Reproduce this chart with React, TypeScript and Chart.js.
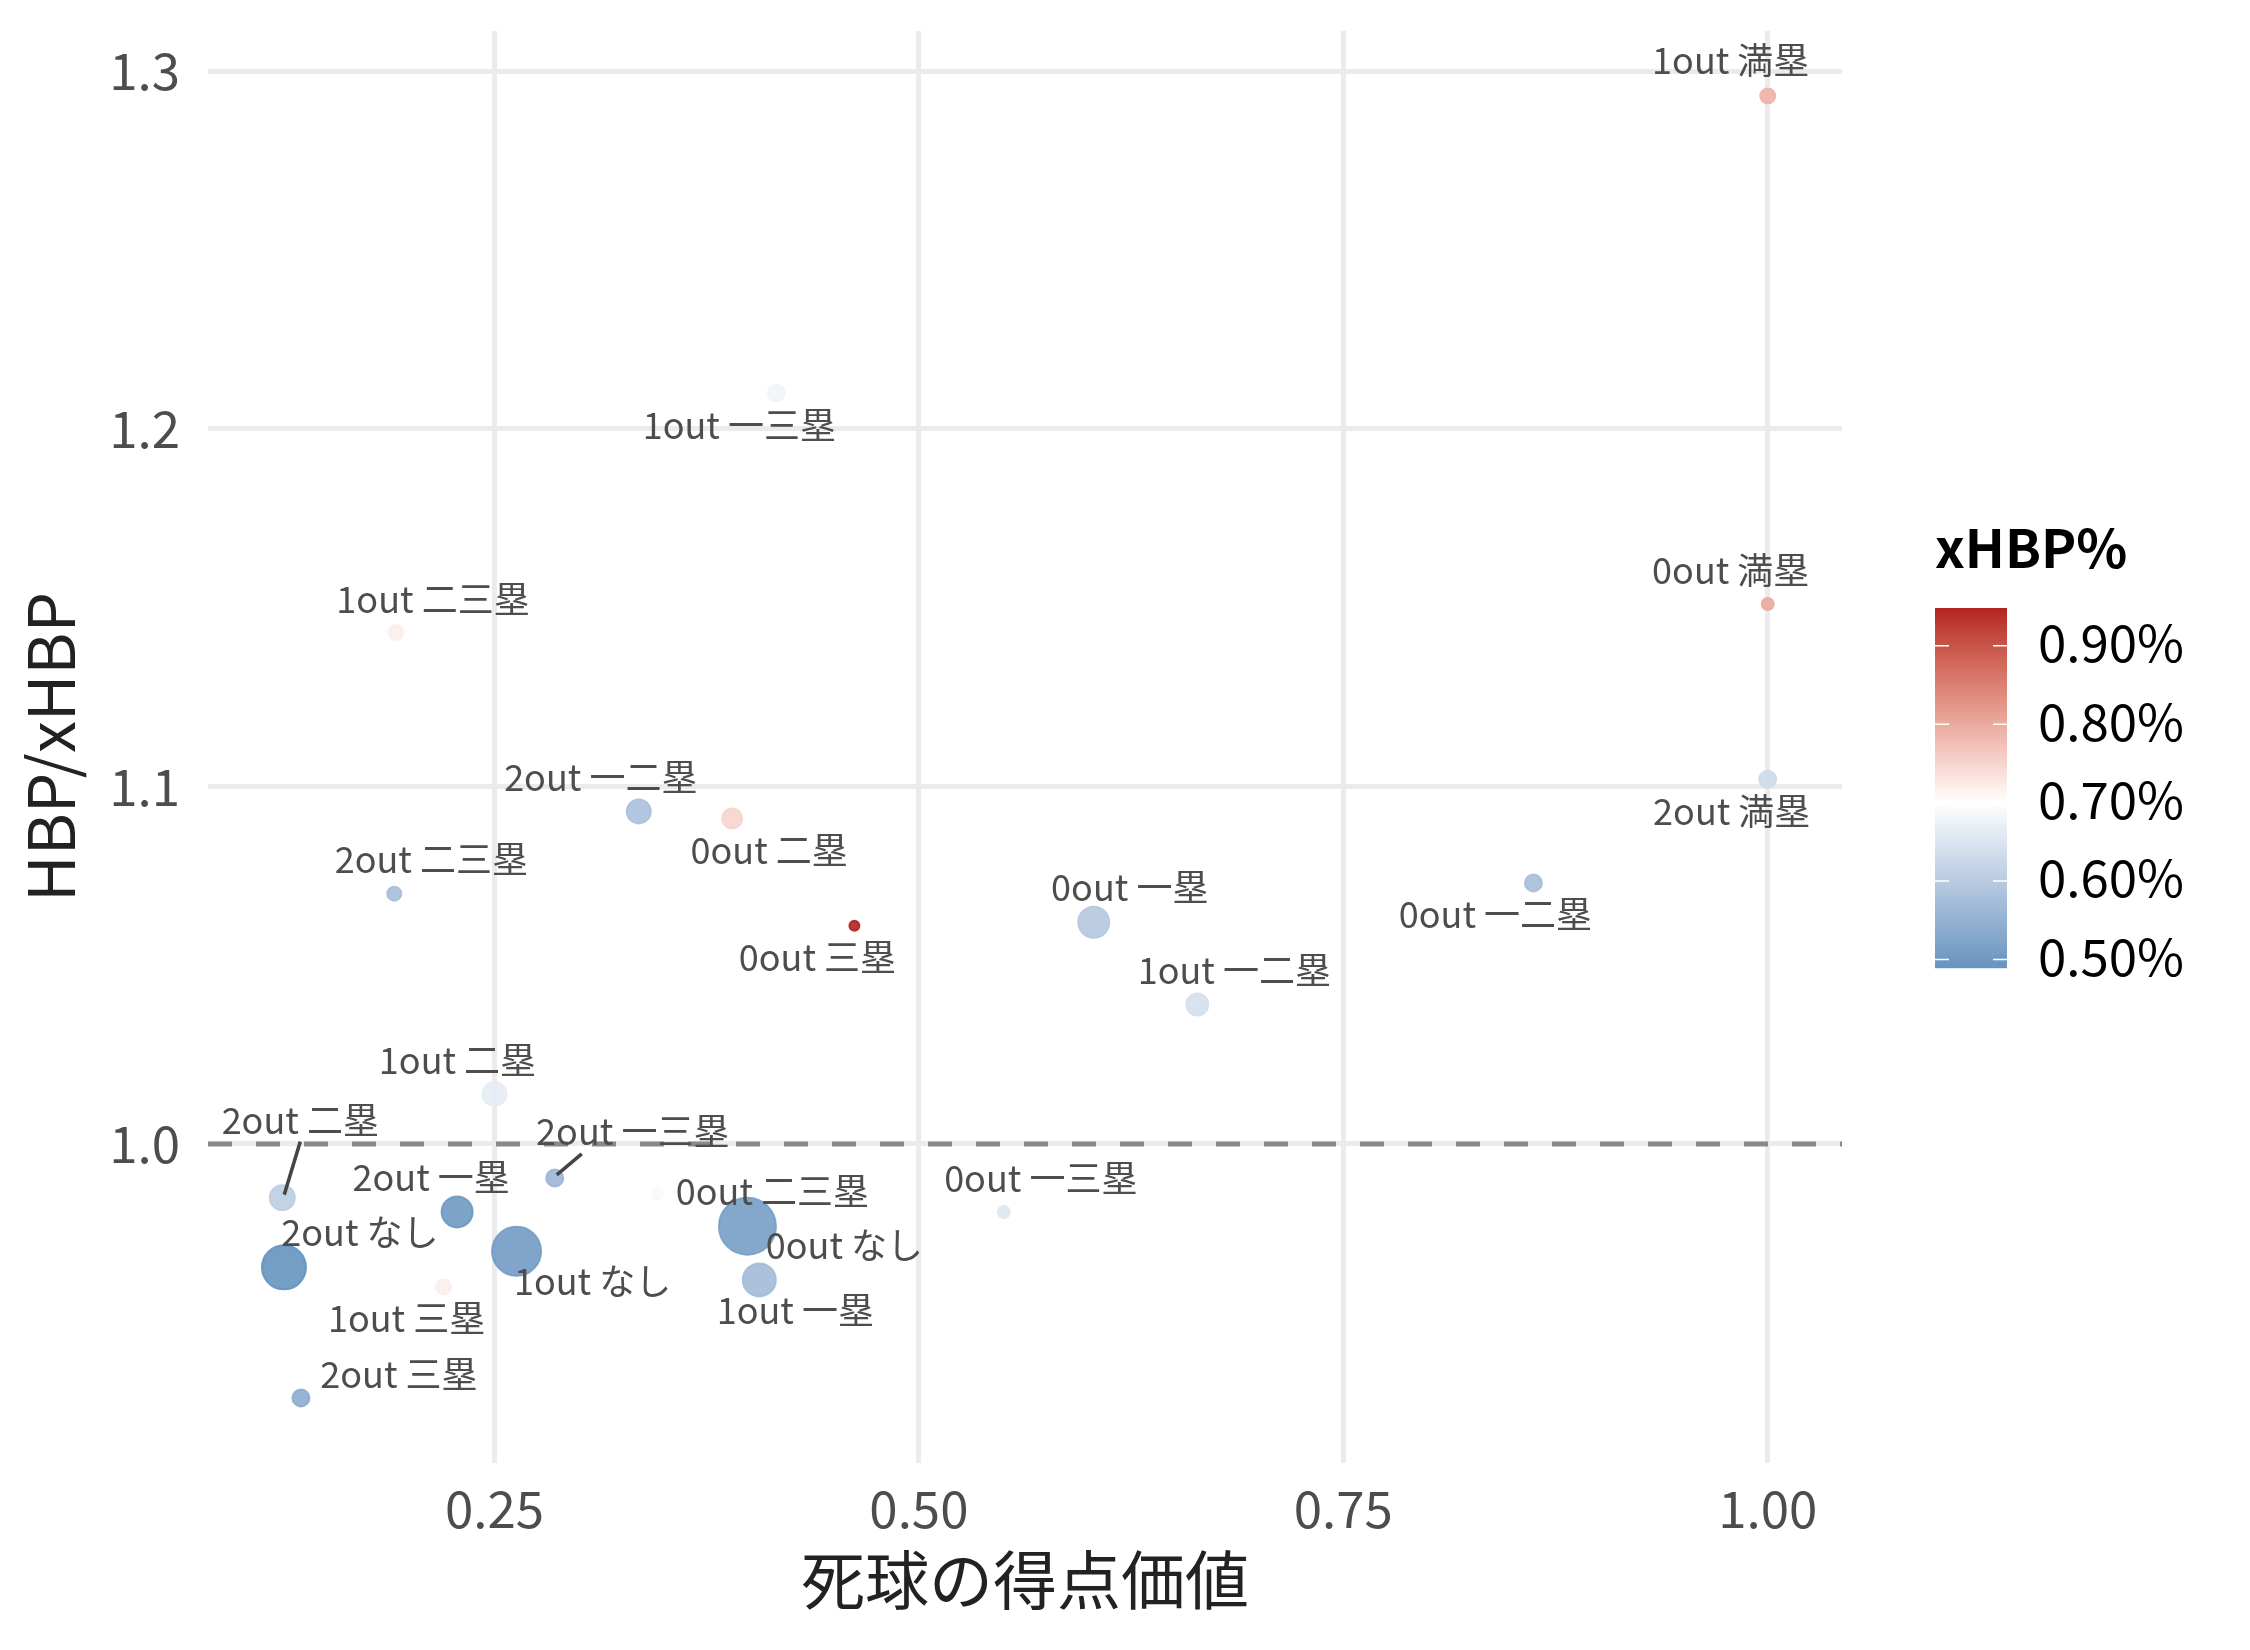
import React, { useEffect, useRef } from 'react';
import { Chart, registerables, ChartConfiguration, Plugin } from 'chart.js';

Chart.register(...registerables);

// 走者・アウト状況ごとの死球データ
const situations = [
  '0out なし', '0out 一塁', '0out 二塁', '0out 三塁', '0out 一二塁', '0out 一三塁', '0out 二三塁', '0out 満塁',
  '1out なし', '1out 一塁', '1out 二塁', '1out 三塁', '1out 一二塁', '1out 一三塁', '1out 二三塁', '1out 満塁',
  '2out なし', '2out 一塁', '2out 二塁', '2out 三塁', '2out 一二塁', '2out 一三塁', '2out 二三塁', '2out 満塁',
];
// 死球の得点価値
const hbpValue = [
  0.399, 0.603, 0.390, 0.462, 0.862, 0.550, 0.346, 1.000,
  0.263, 0.406, 0.250, 0.220, 0.664, 0.416, 0.192, 1.000,
  0.126, 0.228, 0.125, 0.136, 0.335, 0.2855, 0.191, 1.000,
];
// HBP/xHBP
const hbpRatio = [
  0.977, 1.062, 1.091, 1.061, 1.073, 0.981, 0.986, 1.151,
  0.970, 0.962, 1.014, 0.960, 1.039, 1.210, 1.143, 1.293,
  0.9655, 0.981, 0.985, 0.929, 1.093, 0.9905, 1.070, 1.102,
];
// xHBP% (colour)
const xhbpPct = [
  0.510, 0.595, 0.750, 0.948, 0.575, 0.655, 0.690, 0.800,
  0.505, 0.570, 0.665, 0.720, 0.640, 0.680, 0.720, 0.790,
  0.4893, 0.500, 0.605, 0.540, 0.580, 0.560, 0.575, 0.630,
];
// 件数 (size)
const hbpCount = [
  870, 272, 121, 36, 90, 49, 42, 49,
  650, 306, 169, 72, 144, 90, 72, 72,
  529, 272, 182, 90, 169, 90, 64, 90,
];

const xTicks = [0.25, 0.5, 0.75, 1.0];
const yTicks = [1.0, 1.1, 1.2, 1.3];
const legendBreaks = [0.5, 0.6, 0.7, 0.8, 0.9];

// where the repelled labels ended up, relative to their point (px)
const labelNudge: [number, number][] = [
  [97, 21], [36, -33], [37, 34], [-37, 33], [-38, 33], [37, -32], [115, -1], [-37, -32],
  [76, 32], [36, 32], [-37, -32], [-37, 33], [37, -32], [-37, 34], [37, -31], [-37, -34],
  [76, -33], [-26, -33], [18, -75], [98, -22], [-38, -32], [78, -45], [37, -32], [-36, 34],
];
const segmentNudge: ([number, number] | null)[] = situations.map(() => null);
segmentNudge[18] = [18, -56];
segmentNudge[21] = [27, -24];

const FONT = '"Noto Sans CJK JP", "Noto Sans", sans-serif';
const W = 2250;
const H = 1650;

// ---- scale_colour_gradient2(low = steelblue, mid = white, high = firebrick, midpoint = 0.7), Lab space
const LOW = [70, 130, 180];
const MID = [255, 255, 255];
const HIGH = [178, 34, 34];
const MIDPOINT = 0.7;

const toLin = (c: number) => {
  const v = c / 255;
  return v <= 0.04045 ? v / 12.92 : Math.pow((v + 0.055) / 1.055, 2.4);
};
const fromLin = (c: number) => {
  const v = c <= 0.0031308 ? 12.92 * c : 1.055 * Math.pow(c, 1 / 2.4) - 0.055;
  return Math.round(Math.min(1, Math.max(0, v)) * 255);
};
const WX = 0.95047, WY = 1, WZ = 1.08883;
const fLab = (t: number) => (t > 216 / 24389 ? Math.cbrt(t) : (24389 / 27 * t + 16) / 116);
const fLabInv = (t: number) => (t * t * t > 216 / 24389 ? t * t * t : (116 * t - 16) / (24389 / 27));

function rgbToLab(rgb: number[]) {
  const [r, g, b] = rgb.map(toLin);
  const x = (0.4124564 * r + 0.3575761 * g + 0.1804375 * b) / WX;
  const y = (0.2126729 * r + 0.7151522 * g + 0.072175 * b) / WY;
  const z = (0.0193339 * r + 0.119192 * g + 0.9503041 * b) / WZ;
  const fx = fLab(x), fy = fLab(y), fz = fLab(z);
  return [116 * fy - 16, 500 * (fx - fy), 200 * (fy - fz)];
}

function labToRgb(lab: number[]) {
  const fy = (lab[0] + 16) / 116;
  const fx = fy + lab[1] / 500;
  const fz = fy - lab[2] / 200;
  const x = fLabInv(fx) * WX, y = fLabInv(fy) * WY, z = fLabInv(fz) * WZ;
  const r = 3.2404542 * x - 1.5371385 * y - 0.4985314 * z;
  const g = -0.969266 * x + 1.8760108 * y + 0.041556 * z;
  const b = 0.0556434 * x - 0.2040259 * y + 1.0572252 * z;
  return [fromLin(r), fromLin(g), fromLin(b)];
}

const labLow = rgbToLab(LOW), labMid = rgbToLab(MID), labHigh = rgbToLab(HIGH);
const colMin = Math.min(...xhbpPct);
const colMax = Math.max(...xhbpPct);
const maxDev = Math.max(MIDPOINT - colMin, colMax - MIDPOINT);

function colourFor(v: number) {
  const t = Math.min(1, Math.max(0, (v - MIDPOINT) / maxDev / 2 + 0.5));
  const mix = (a: number[], b: number[], k: number) => a.map((c, i) => c + (b[i] - c) * k);
  const lab = t < 0.5 ? mix(labLow, labMid, t / 0.5) : mix(labMid, labHigh, (t - 0.5) / 0.5);
  return labToRgb(lab);
}
const rgba = (c: number[], a: number) => `rgba(${c[0]}, ${c[1]}, ${c[2]}, ${a})`;

// axis limits with ggplot's 5% expansion
const xr = [Math.min(...hbpValue), Math.max(...hbpValue)];
const yr = [Math.min(...hbpRatio), Math.max(...hbpRatio)];
const xPad = (xr[1] - xr[0]) * 0.05;
const yPad = (yr[1] - yr[0]) * 0.05;

const refLinePlugin: Plugin<'scatter'> = {
  id: 'refLine',
  beforeDatasetsDraw(chart) {
    const { ctx, chartArea, scales } = chart;
    const y = scales.y.getPixelForValue(1);
    ctx.save();
    ctx.strokeStyle = '#898989';
    ctx.lineWidth = 5;
    ctx.setLineDash([24, 24]);
    ctx.beginPath();
    ctx.moveTo(chartArea.left, y);
    ctx.lineTo(chartArea.right, y);
    ctx.stroke();
    ctx.restore();
  },
};

const labelPlugin: Plugin<'scatter'> = {
  id: 'pointLabels',
  afterDatasetsDraw(chart) {
    const { ctx, scales } = chart;
    ctx.save();
    situations.forEach((name, i) => {
      const px = scales.x.getPixelForValue(hbpValue[i]);
      const py = scales.y.getPixelForValue(hbpRatio[i]);
      const seg = segmentNudge[i];
      if (seg) {
        ctx.strokeStyle = '#444444';
        ctx.lineWidth = 3.5;
        ctx.beginPath();
        ctx.moveTo(px + 2, py - 3);
        ctx.lineTo(px + seg[0], py + seg[1]);
        ctx.stroke();
      }
      ctx.font = `36px ${FONT}`;
      ctx.fillStyle = '#4D4D4D';
      ctx.textAlign = 'center';
      ctx.textBaseline = 'middle';
      ctx.fillText(name, px + labelNudge[i][0], py + labelNudge[i][1] - 2);
    });
    ctx.restore();
  },
};

const colourbarPlugin: Plugin<'scatter'> = {
  id: 'colourbar',
  afterDraw(chart) {
    const { ctx } = chart;
    const left = 1935, top = 608, width = 72, height = 360;
    ctx.save();
    for (let r = 0; r < height; r++) {
      const v = colMax - ((r + 0.5) / height) * (colMax - colMin);
      ctx.fillStyle = rgba(colourFor(v), 1);
      ctx.fillRect(left, top + r, width, 1.2);
    }
    ctx.strokeStyle = '#FFFFFF';
    ctx.lineWidth = 1.5;
    ctx.font = `51px ${FONT}`;
    ctx.fillStyle = '#000000';
    ctx.textAlign = 'left';
    ctx.textBaseline = 'middle';
    legendBreaks.forEach((b) => {
      const y = top + height - ((b - colMin) / (colMax - colMin)) * height;
      ctx.beginPath();
      ctx.moveTo(left, y);
      ctx.lineTo(left + 14, y);
      ctx.moveTo(left + width - 14, y);
      ctx.lineTo(left + width, y);
      ctx.stroke();
      ctx.fillText(`${b.toFixed(2)}%`, 2038, y - 3);
    });
    ctx.font = `bold 53px ${FONT}`;
    ctx.fillText('xHBP%', 1935, 548);
    ctx.restore();
  },
};

const App: React.FC = () => {
  const canvasRef = useRef<HTMLCanvasElement>(null);
  const chartRef = useRef<Chart<'scatter'> | null>(null);

  useEffect(() => {
    document.body.style.margin = '0';
    if (chartRef.current) {
      chartRef.current.destroy();
    }
    const ctx = canvasRef.current!.getContext('2d');

    const colours = xhbpPct.map(colourFor);

    const config: ChartConfiguration<'scatter'> = {
      type: 'scatter',
      data: {
        datasets: [
          {
            data: situations.map((_, i) => ({ x: hbpValue[i], y: hbpRatio[i] })),
            pointRadius: hbpCount.map((n) => Math.sqrt(n) - 1),
            backgroundColor: colours.map((c) => rgba(c, 0.9)),
            borderColor: colours.map((c) => rgba(c, 0.9)),
            borderWidth: 2,
          },
        ],
      },
      options: {
        animation: false,
        responsive: false,
        devicePixelRatio: 1,
        events: [],
        layout: { autoPadding: false, padding: { left: 0, right: 408, top: 31, bottom: 0 } },
        plugins: {
          legend: { display: false },
          tooltip: { enabled: false },
        },
        scales: {
          x: {
            type: 'linear',
            min: xr[0] - xPad,
            max: xr[1] + xPad,
            afterBuildTicks: (scale) => {
              scale.ticks = xTicks.map((v) => ({ value: v }));
            },
            afterFit: (scale) => {
              scale.height = 187;
              scale.paddingLeft = 0;
              scale.paddingRight = 0;
            },
            grid: { color: '#EBEBEB', lineWidth: 5, drawTicks: false },
            border: { display: false },
            ticks: {
              padding: 15,
              color: '#4D4D4D',
              font: { family: FONT, size: 51 },
              callback: (v) => Number(v).toFixed(2),
            },
            title: {
              display: true,
              text: '死球の得点価値',
              color: '#222222',
              font: { family: FONT, size: 64 },
              padding: { top: 0, bottom: 32 },
            },
          },
          y: {
            type: 'linear',
            min: yr[0] - yPad,
            max: yr[1] + yPad,
            afterBuildTicks: (scale) => {
              scale.ticks = yTicks.map((v) => ({ value: v }));
            },
            afterFit: (scale) => {
              scale.width = 208;
              scale.paddingTop = 0;
              scale.paddingBottom = 0;
            },
            grid: { color: '#EBEBEB', lineWidth: 5, drawTicks: false },
            border: { display: false },
            ticks: {
              padding: 28,
              color: '#4D4D4D',
              font: { family: FONT, size: 51 },
              callback: (v) => Number(v).toFixed(1),
            },
            title: {
              display: true,
              text: 'HBP/xHBP',
              color: '#222222',
              font: { family: FONT, size: 64 },
              padding: { top: 12, bottom: 0 },
            },
          },
        },
      },
      plugins: [refLinePlugin, labelPlugin, colourbarPlugin],
    };

    chartRef.current = new Chart(ctx!, config);

    return () => {
      chartRef.current?.destroy();
      chartRef.current = null;
    };
  }, []);

  return (
    <canvas
      ref={canvasRef}
      width={W}
      height={H}
      style={{ display: 'block', width: W, height: H, background: '#FFFFFF' }}
    />
  );
};

export default App;
